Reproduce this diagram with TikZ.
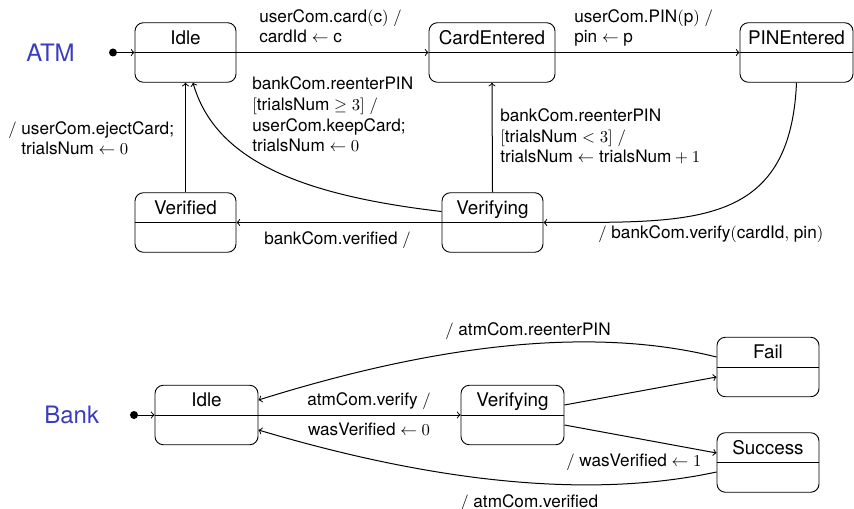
\documentclass[tikz,border=0pt]{standalone}
\usepackage[no-math]{fontspec}
\setmainfont{TeX Gyre Heros}
\definecolor{titleblue}{RGB}{60,60,190}
\begin{document}
\begin{tikzpicture}[x=0.6pt,y=-0.6pt,
  statebox/.style={draw, rounded corners=5pt, minimum width=60.6pt, minimum height=35.7pt, inner sep=0pt, line width=0.55pt},
  statename/.style={anchor=base, inner sep=0pt, font=\fontsize{11.3}{13.5}\selectfont},
  lbl/.style={anchor=base west, align=left, inner sep=0pt, font=\fontsize{10.3}{12.4}\selectfont},
  clbl/.style={anchor=base, inner sep=0pt, font=\fontsize{10.3}{12.4}\selectfont},
  initdot/.style={circle, fill=black, inner sep=0pt, minimum size=4.8pt},
  titletext/.style={font=\Large, text=titleblue, anchor=base west, inner sep=0pt},
  tr/.style={->, line width=0.6pt},
  divider/.style={line width=0.55pt}]
\useasboundingbox (0,0) rectangle (854,509);

% ---------------- ATM ----------------
\node[titletext] (atmTitle) at (26,62) {ATM};
\node[initdot] (aInit) at (113,52.5) {};
\node[statebox] (aIdle) at (185.5,52.5) {};
\node[statebox, minimum width=75.6pt] (aCard) at (492,52.5) {};
\node[statebox, minimum width=67.8pt] (aPin) at (796.5,52.5) {};
\node[statebox] (aVerified) at (185.5,222.5) {};
\node[statebox] (aVerifying) at (492.5,222.5) {};
\foreach \n in {aIdle,aCard,aPin,aVerified,aVerifying}{\draw[divider] (\n.west) -- (\n.east);}
\node[statename] (aIdleT) at ([yshift=-13.2pt]aIdle.north) {Idle};
\node[statename] (aCardT) at ([yshift=-13.2pt]aCard.north) {CardEntered};
\node[statename] (aPinT) at ([yshift=-13.2pt]aPin.north) {PINEntered};
\node[statename] (aVerifiedT) at ([yshift=-13.2pt]aVerified.north) {Verified};
\node[statename] (aVerifyingT) at ([yshift=-13.2pt]aVerifying.north) {Verifying};

\draw[tr] (aInit) -- (aIdle.west);
\draw[tr] (aIdle.east) -- (aCard.west);
\draw[tr] (aCard.east) -- (aPin.west);
\draw[tr] (aPin.south) .. controls (790,230) and (690,222) .. (aVerifying.east);
\draw[tr] ([yshift=6.6pt]aVerifying.west) .. controls (300,195) and (215,160) .. ([xshift=4.5pt]aIdle.south);
\draw[tr] (aVerifying.west) -- (aVerified.east);
\draw[tr] (aVerified.north) -- (aIdle.south);
\draw[tr] (aVerifying.north) -- (aCard.south);

\node[lbl] (l1) at (259,43) {userCom.card$($c$)$ $/$\\cardId $\leftarrow$ c};
\node[lbl] (l2) at (574,43) {userCom.PIN$($p$)$ $/$\\pin $\leftarrow$ p};
\node[lbl] (l3) at (252,152) {bankCom.reenterPIN\\$[$trialsNum $\geq 3]$ $/$\\userCom.keepCard;\\trialsNum $\leftarrow 0$};
\node[lbl] (l4) at (500,163) {bankCom.reenterPIN\\$[$trialsNum $< 3]$ $/$\\trialsNum $\leftarrow$ trialsNum${}+1$};
\node[lbl] (l5) at (598,238) {$/$ bankCom.verify$($cardId$,$ pin$)$};
\node[lbl] (l6) at (264,245) {bankCom.verified $/$};
\node[lbl] (l7) at (8,155) {$/$ userCom.ejectCard;\\\hphantom{$/$ }trialsNum $\leftarrow 0$};

% ---------------- Bank ----------------
\node[titletext] (bankTitle) at (44,423) {Bank};
\node[initdot] (bInit) at (134,415) {};
\node[statebox, minimum width=61.8pt] (bIdle) at (206.5,415) {};
\node[statebox, minimum width=61.8pt] (bVer) at (512.5,415) {};
\node[statebox, minimum width=61.2pt] (bFail) at (768,367) {};
\node[statebox, minimum width=61.2pt] (bSucc) at (768,462.5) {};
\foreach \n in {bIdle,bVer,bFail,bSucc}{\draw[divider] (\n.west) -- (\n.east);}
\node[statename] (bIdleT) at ([yshift=-13.2pt]bIdle.north) {Idle};
\node[statename] (bVerT) at ([yshift=-13.2pt]bVer.north) {Verifying};
\node[statename] (bFailT) at ([yshift=-13.2pt]bFail.north) {Fail};
\node[statename] (bSuccT) at ([yshift=-13.2pt]bSucc.north) {Success};

\draw[tr] (bInit) -- (bIdle.west);
\draw[tr] (bIdle.east) -- (bVer.west);
\draw[tr] ([yshift=6pt]bVer.east) -- ([yshift=-6pt]bFail.west);
\draw[tr] ([yshift=-6pt]bVer.east) -- ([yshift=5.7pt]bSucc.west);
\draw[tr] ([yshift=6pt]bFail.west) .. controls (600,328) and (450,340) .. ([yshift=9pt]bIdle.east);
\draw[tr] ([yshift=-5.7pt]bSucc.west) .. controls (600,497) and (450,487) .. ([yshift=-9pt]bIdle.east);

\node[clbl] (l8) at (369,405) {atmCom.verify $/$};
\node[clbl] (l9) at (369,435) {wasVerified $\leftarrow 0$};
\node[lbl] (l10) at (445,335) {$/$ atmCom.reenterPIN};
\node[lbl] (l11) at (566,466) {$/$ wasVerified $\leftarrow 1$};
\node[lbl] (l12) at (460,507) {$/$ atmCom.verified};
\end{tikzpicture}
\end{document}
